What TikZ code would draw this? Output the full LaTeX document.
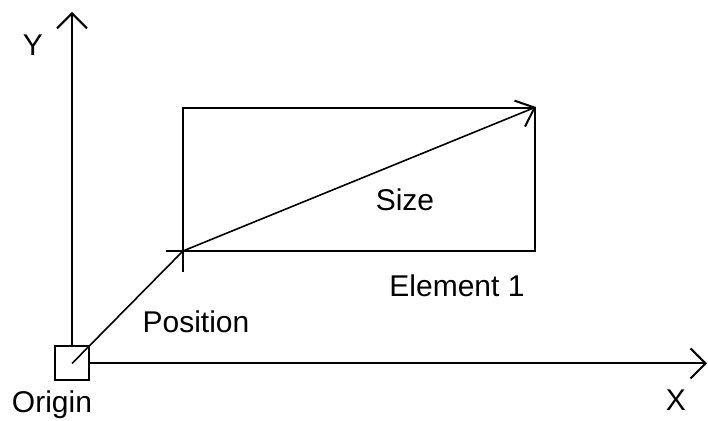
\documentclass[tikz,border=0pt]{standalone}
\usepackage{fontspec}
\setmainfont{Liberation Sans}
\usetikzlibrary{arrows.meta}
\begin{document}
\begin{tikzpicture}[
  x=0.5pt, y=-0.5pt,
  axis/.style={line width=1pt, -{Straight Barb[length=7.5pt, width=15pt, line width=1pt]}},
  vec/.style={line width=0.8pt, -{Straight Barb[length=8pt, width=14pt, line width=1pt]}},
  orig/.style={draw, line width=1pt, minimum size=17pt, inner sep=0pt},
  elem/.style={draw, line width=1pt, minimum width=176pt, minimum height=71.5pt, inner sep=0pt},
  lbl/.style={font=\fontsize{15}{18}\selectfont, inner sep=0pt}
]
  \useasboundingbox (0,0) rectangle (708,421);

  \node[orig] (origin) at (72,363.5) {};
  \coordinate (ytip) at (72,12);
  \coordinate (xtip) at (707,363.5);
  \coordinate (pos) at (183,251);
  \node[elem] (element) at (359,179.5) {};

  % axes
  \draw[axis] (origin.north) -- (ytip);
  \draw[axis] (origin.east) -- (xtip);

  % position and size
  \draw[line width=0.8pt] (origin.center) -- (pos);
  \draw[line width=1pt] (166,251) -- (pos) -- (183,272);
  \draw[vec] (pos) -- (element.north east);

  % labels
  \node[lbl] (ylbl)    at (33,45)   {Y};
  \node[lbl] (xlbl)    at (676,400) {X};
  \node[lbl] (olbl)    at (52,405)  {Origin};
  \node[lbl] (plbl)    at (196,322) {Position};
  \node[lbl] (slbl)    at (405,200) {Size};
  \node[lbl] (elbl)    at (457,286) {Element 1};
\end{tikzpicture}
\end{document}
